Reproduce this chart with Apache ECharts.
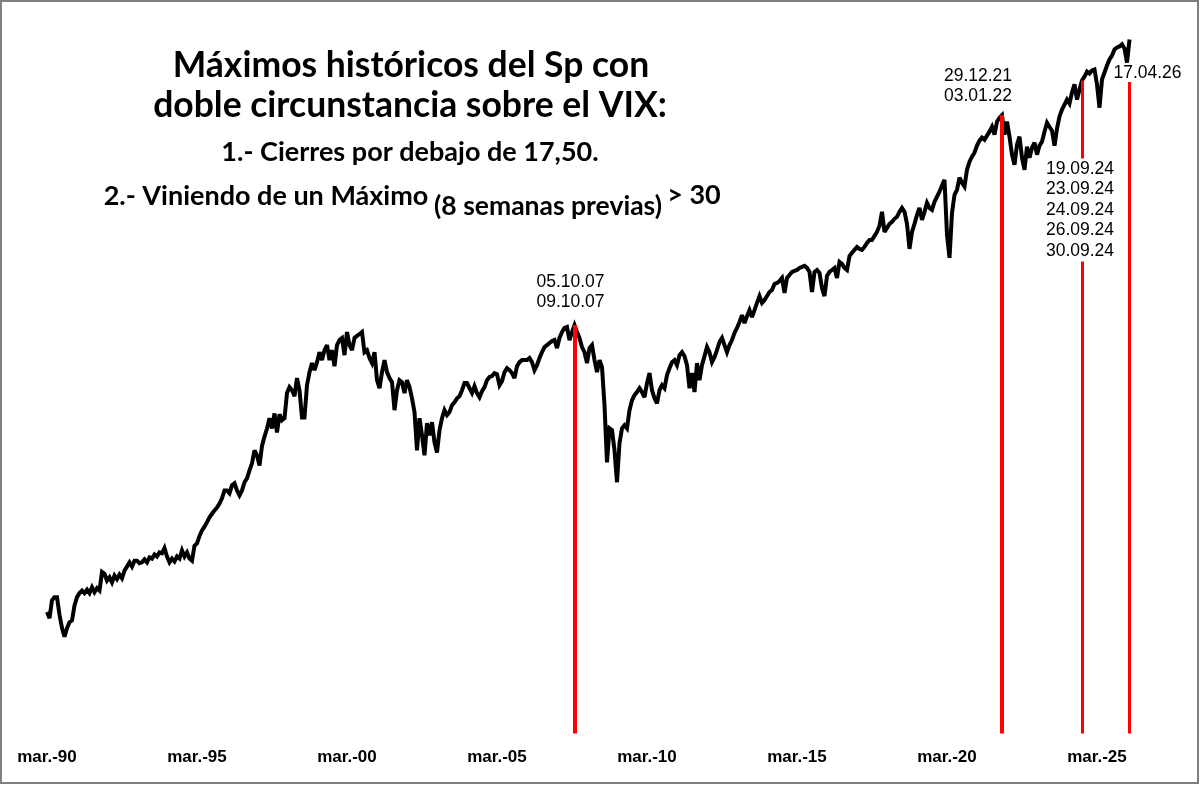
<!DOCTYPE html>
<html lang="es">
<head>
<meta charset="utf-8">
<title>Máximos históricos del Sp</title>
<script src="https://cdn.jsdelivr.net/npm/echarts@6/dist/echarts.min.js"></script>
<style>
  html, body { margin: 0; padding: 0; background: #fff; }
  #chart { width: 1200px; height: 785px; }
</style>
</head>
<body>
<div id="chart"></div>
<script>
// ===== Data =====
const monthNames = ['mar.','abr.','may.','jun.','jul.','ago.','sep.','oct.','nov.','dic.','ene.','feb.'];
const firstYear = 1990;

// Sp level, one row per year, March to February
const closes = [
  340,329,362,368,368,335,312,298,312,322,325,352,
  368,376,381,376,383,376,388,378,386,381,421,417,
  402,409,398,413,405,415,407,424,433,443,433,447,
  447,441,443,450,443,455,452,462,457,467,465,478,
  457,443,452,445,457,452,472,457,467,452,447,484,
  490,510,525,536,549,563,574,584,593,606,623,650,
  650,640,668,675,650,633,650,679,693,723,751,805,
  784,742,824,866,904,955,904,980,885,975,945,955,
  1092,1127,1109,1074,1183,1109,959,959,1139,1221,1281,1234,
  1288,1358,1302,1373,1410,1302,1373,1260,1410,1449,1465,1337,
  1512,1410,1373,1465,1481,1496,1512,1358,1373,1316,1281,1358,
  1170,1121,1221,1302,1221,1183,1158,997,1109,1170,1158,1092,
  1170,1127,1062,987,805,955,872,784,930,872,935,840,
  796,896,955,997,971,987,1024,1040,1062,1074,1109,1152,
  1152,1121,1092,1133,1092,1068,1103,1127,1170,1190,1196,1215,
  1208,1139,1164,1221,1247,1234,1215,1183,1260,1288,1302,1302,
  1302,1316,1288,1234,1267,1316,1358,1396,1410,1426,1441,1449,
  1388,1465,1512,1545,1553,1449,1512,1569,1512,1465,1396,1358,
  1281,1388,1410,1302,1221,1302,1254,1024,755,905,896,805,
  679,836,905,920,905,997,1051,1080,1098,1121,1098,1068,
  1152,1215,1109,1062,1034,1109,1139,1121,1202,1247,1288,1302,
  1267,1337,1358,1330,1267,1121,1215,1098,1281,1170,1267,1330,
  1396,1358,1288,1323,1373,1434,1465,1410,1358,1410,1449,1505,
  1545,1595,1655,1586,1646,1700,1637,1700,1766,1832,1766,1794,
  1832,1872,1892,1954,1964,1985,2018,1862,2018,2050,2083,2094,
  2105,2128,2139,2151,2128,2083,1872,2083,2105,2072,1912,1832,
  2040,2083,2105,2128,2018,2197,2174,2128,2105,2268,2307,2343,
  2380,2355,2343,2380,2431,2471,2471,2524,2578,2665,2870,2578,
  2635,2692,2721,2765,2795,2870,2931,2870,2692,2355,2578,2692,
  2825,2931,2750,2870,3012,2931,2900,3028,3110,3194,3300,3405,
  2538,2245,2853,3142,3228,3442,3351,3284,3592,3750,3850,3933,
  4084,4194,4262,4216,4307,4400,4518,4330,4641,4742,4808,4330,
  4641,4284,3891,3689,4105,4284,3830,3592,4063,3830,4040,4150,
  3891,4084,4171,4400,4616,4518,4423,4084,4470,4767,4949,5083,
  5220,5112,5420,5660,5220,5507,5778,5903,6063,6000,6096,6128,
  5660,5000,5809,6030,6260,6464,6603,6819,6893,6930,7010,6855,
  6360,7193
];

// Month labels: 'mar.-90', 'abr.-90', ...
const months = closes.map((_, i) => {
  const fy = firstYear + Math.floor(i / 12);
  const year = i % 12 >= 10 ? fy + 1 : fy;
  return monthNames[i % 12] + '-' + String(year % 100).padStart(2, '0');
});

// Red signal lines: month and the level each one reaches
const signalMonths = ['oct.-07', 'ene.-22', 'sep.-24', 'abr.-26'];
const signalTops   = [1569, 4808, 5778, 5733];

// Date labels
const labelsA = ['05.10.07', '09.10.07'];
const labelsB = ['29.12.21', '03.01.22'];
const labelsC = ['19.09.24', '23.09.24', '24.09.24', '26.09.24', '30.09.24'];
const labelsD = ['17.04.26'];

const yMin = 178;
const yMax = 8000;

// ===== Chart =====
const chart = echarts.init(document.getElementById('chart'), null, { renderer: 'canvas' });

const headFont = 'Lato';
const arial = '"Liberation Sans"';

function head(text, cx, cy, size) {
  return {
    text, left: cx, top: cy, textAlign: 'center', textVerticalAlign: 'middle', padding: 0,
    textStyle: { fontFamily: headFont, fontSize: size, fontWeight: 'bold', color: '#000' }
  };
}

function dateLabel(month, level, lines, offset, extra) {
  return {
    coord: [month, level],
    symbol: 'circle',
    symbolSize: 1,
    itemStyle: { color: 'rgba(0,0,0,0)' },
    label: Object.assign({
      show: true,
      position: 'inside',
      formatter: lines.join('\n'),
      offset,
      fontFamily: arial,
      fontSize: 17.5,
      lineHeight: 20.6,
      color: '#000',
      align: 'center',
      verticalAlign: 'middle'
    }, extra || {})
  };
}

chart.setOption({
  animation: false,
  backgroundColor: '#fff',
  title: [
    head('Máximos históricos del Sp con', 411, 66, 35.5),
    head('doble circunstancia sobre el VIX:', 410, 106, 35.5),
    head('1.- Cierres por debajo de 17,50.', 410, 152, 27),
    head('2.- Viniendo de un Máximo', 266, 196, 27),
    head('(8 semanas previas)', 548, 206, 26.5),
    head('> 30', 694, 195, 27)
  ],
  grid: { left: 47, right: 70.5, top: 19.5, bottom: 51.6 },
  xAxis: {
    type: 'category',
    data: months,
    boundaryGap: false,
    axisLine: { show: false },
    axisTick: { show: false },
    splitLine: { show: false },
    axisLabel: {
      interval: 59,
      showMinLabel: true,
      margin: 15,
      fontFamily: arial,
      fontSize: 17,
      fontWeight: 'bold',
      color: '#000'
    }
  },
  yAxis: { type: 'log', logBase: 10, min: yMin, max: yMax, show: false },
  series: [{
    type: 'line',
    data: closes,
    showSymbol: false,
    sampling: false,
    lineStyle: { color: '#000', width: 4, join: 'miter', miterLimit: 3 },
    markLine: {
      silent: true,
      symbol: 'none',
      label: { show: false },
      z: 5,
      data: signalMonths.map((m, i) => [
        { xAxis: m, yAxis: signalTops[i], lineStyle: { color: '#f00', type: 'solid', width: i < 2 ? 4 : 3 } },
        { xAxis: m, yAxis: yMin }
      ])
    },
    markPoint: {
      silent: true,
      z: 6,
      data: [
        dateLabel('oct.-07', 1569, labelsA, [-4, -33]),
        dateLabel('ene.-22', 4808, labelsB, [-24, -29]),
        dateLabel('sep.-24', 2898, labelsC, [-2, 0], { backgroundColor: '#fff' }),
        dateLabel('abr.-26', 5733, labelsD, [18, -9])
      ]
    }
  }],
  graphic: [{
    type: 'rect',
    shape: { x: 1, y: 1, width: 1197, height: 782 },
    style: { fill: 'none', stroke: '#808080', lineWidth: 2 },
    silent: true
  }]
});

window.addEventListener('resize', () => chart.resize());
</script>
</body>
</html>
